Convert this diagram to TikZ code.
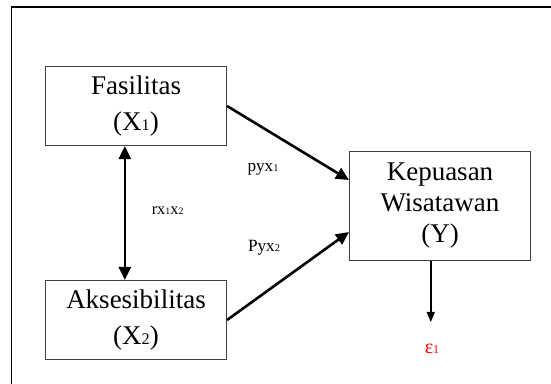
\documentclass[tikz,border=0pt]{standalone}
\usepackage{fontspec}
\setmainfont{Liberation Serif}
\usepackage{graphicx}
\usetikzlibrary{arrows.meta}
\newcommand{\idx}[1]{\scalebox{0.6}{#1}}

\begin{document}
\begin{tikzpicture}[x=0.5pt,y=-0.5pt,
  box/.style={draw=black!75,line width=0.55pt,minimum width=90.5pt,align=center,inner sep=0pt,font=\fontsize{13.5}{18}\selectfont},
  effect/.style={line width=1.3pt,-{Triangle[length=6.5pt,width=6pt]}},
  lbl/.style={inner sep=0pt,font=\fontsize{8.6}{10}\selectfont}]
\useasboundingbox (0,0) rectangle (551,384);
\draw[line width=0.8pt] (11.6,384) -- (11.6,7.3) -- (551,7.3);
\node[box,minimum height=39.5pt] (fas) at (136,106) {Fasilitas\\(X\idx{1})};
\node[box,minimum height=39.5pt] (aks) at (136,320) {Aksesibilitas\\(X\idx{2})};
\node[box,minimum height=54.5pt,font=\fontsize{13.5}{15.5}\selectfont] (kep) at (440,206) {Kepuasan\\Wisatawan\\(Y)};
\draw[effect] (fas.east) -- ([yshift=13pt]kep.west);
\draw[effect] (aks.east) -- ([yshift=-13pt]kep.west);
\draw[effect,{Triangle[length=6.5pt,width=6pt]}-{Triangle[length=6.5pt,width=6pt]}] ([xshift=-5.6pt]fas.south) -- ([xshift=-5.6pt]aks.north);
\coordinate (err) at (430.8,322);
\draw[line width=0.7pt,-{Triangle[length=5pt,width=4pt]}] (kep.south -| err) -- (err);
\node[lbl,text=red,font=\fontsize{10}{12}\selectfont] (eps) at (432,349) {ε\idx{1}};
\node[lbl] (p1) at (263,169) {pyx\idx{1}};
\node[lbl] (p2) at (264,248) {Pyx\idx{2}};
\node[lbl,font=\fontsize{8.2}{10}\selectfont] (r12) at (167.6,211) {rx\idx{1}x\idx{2}};
\end{tikzpicture}
\end{document}
